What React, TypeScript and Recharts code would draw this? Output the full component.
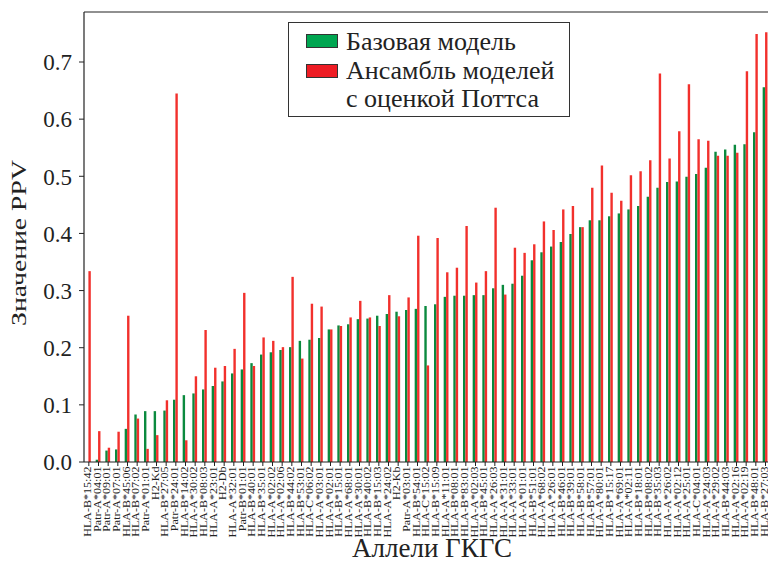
import React from 'react';
import { BarChart, Bar, XAxis, YAxis, ReferenceLine, Legend, Label } from 'recharts';

const alleles = [
  'HLA-B*15:42', 'Patr-A*04:01', 'Patr-A*09:01', 'Patr-A*07:01', 'HLA-B*45:06', 'HLA-B*07:02',
  'Patr-A*01:01', 'H2-Kd', 'HLA-B*27:05', 'Patr-B*24:01', 'HLA-B*14:02', 'HLA-A*30:02',
  'HLA-B*08:03', 'HLA-A*23:01', 'H2-Db', 'HLA-A*32:01', 'Patr-B*01:01', 'HLA-B*40:01',
  'HLA-B*35:01', 'HLA-A*02:02', 'HLA-A*02:06', 'HLA-B*44:02', 'HLA-B*53:01', 'HLA-C*06:02',
  'HLA-A*03:01', 'HLA-A*02:01', 'HLA-B*15:01', 'HLA-A*68:01', 'HLA-A*30:01', 'HLA-B*40:02',
  'HLA-B*15:03', 'HLA-A*24:02', 'H2-Kb', 'Patr-A*03:01', 'HLA-B*54:01', 'HLA-C*15:02',
  'HLA-B*15:09', 'HLA-A*11:01', 'HLA-B*08:01', 'HLA-B*83:01', 'HLA-A*02:03', 'HLA-B*45:01',
  'HLA-A*26:03', 'HLA-A*31:01', 'HLA-A*33:01', 'HLA-A*01:01', 'HLA-B*51:01', 'HLA-A*68:02',
  'HLA-A*26:01', 'HLA-B*46:01', 'HLA-B*39:01', 'HLA-B*58:01', 'HLA-B*57:01', 'HLA-A*80:01',
  'HLA-B*15:17', 'HLA-A*69:01', 'HLA-A*02:11', 'HLA-B*18:01', 'HLA-B*08:02', 'HLA-B*35:03',
  'HLA-A*26:02', 'HLA-A*02:12', 'HLA-A*25:01', 'HLA-C*04:01', 'HLA-A*24:03', 'HLA-A*29:02',
  'HLA-B*44:03', 'HLA-A*02:16', 'HLA-A*02:19', 'HLA-B*48:01', 'HLA-B*27:03', 'HLA-B*38:01',
];

const baseModel = [
  0.0, 0.004, 0.020, 0.022, 0.058, 0.083, 0.089, 0.089, 0.090, 0.109, 0.117, 0.120,
  0.127, 0.133, 0.141, 0.155, 0.162, 0.173, 0.188, 0.192, 0.196, 0.201, 0.212, 0.214,
  0.217, 0.232, 0.239, 0.241, 0.250, 0.251, 0.256, 0.259, 0.263, 0.266, 0.268, 0.273,
  0.276, 0.289, 0.291, 0.291, 0.292, 0.292, 0.304, 0.310, 0.312, 0.326, 0.353, 0.367,
  0.377, 0.385, 0.399, 0.411, 0.423, 0.423, 0.430, 0.435, 0.442, 0.448, 0.464, 0.480,
  0.490, 0.491, 0.499, 0.504, 0.515, 0.543, 0.547, 0.555, 0.556, 0.577, 0.656, 0.684,
];

const ensembleModel = [
  0.334, 0.054, 0.025, 0.053, 0.256, 0.076, 0.023, 0.047, 0.108, 0.645, 0.038, 0.150,
  0.231, 0.165, 0.168, 0.198, 0.296, 0.168, 0.218, 0.212, 0.201, 0.324, 0.181, 0.277,
  0.272, 0.232, 0.238, 0.253, 0.282, 0.253, 0.238, 0.292, 0.255, 0.288, 0.396, 0.169,
  0.392, 0.332, 0.340, 0.413, 0.314, 0.334, 0.445, 0.293, 0.375, 0.366, 0.381, 0.421,
  0.406, 0.442, 0.448, 0.411, 0.480, 0.519, 0.471, 0.457, 0.502, 0.509, 0.528, 0.680,
  0.531, 0.579, 0.661, 0.565, 0.562, 0.536, 0.536, 0.541, 0.684, 0.749, 0.752, 0.760,
];

const seriesNames = ['Базовая модель', 'Ансамбль моделей с оценкой Поттса'];
const legendLines = [['Базовая модель'], ['Ансамбль моделей', 'с оценкой Поттса']];
const yTicks = [0, 0.1, 0.2, 0.3, 0.4, 0.5, 0.6, 0.7];
const Y_MAX = 0.7875;

const GREEN = '#0b8a3e';
const RED = '#f2302c';
const LEGEND_COLORS = ['#00a651', '#ee1c24'];
const FONT = '"Liberation Serif", "Times New Roman", serif';

const data = alleles.map((a, i) => ({ allele: a, base: baseModel[i], ens: ensembleModel[i] }));

const XTick = (props: any) => {
  const { x, y, payload } = props;
  return (
    <text
      transform={`translate(${x + 2.3},${y + 0.5}) rotate(-90) scale(1.27,1)`}
      textAnchor="end"
      fontSize={9.5}
      fontFamily={FONT}
      fill="#222"
    >
      {payload.value}
    </text>
  );
};

const YTick = (props: any) => {
  const { x, y, payload } = props;
  return (
    <text x={x} y={y} dy="0.36em" textAnchor="end" fontSize={23} fontFamily={FONT} fill="#222">
      {payload.value.toFixed(1)}
    </text>
  );
};

const LegendBox = () => {
  const swatchTops = [11, 41];
  const lineTops = [[4], [33, 60.7]];
  return (
    <div
      style={{
        position: 'relative', width: 282, height: 95, border: '1.5px solid #333',
        background: '#fff', boxSizing: 'border-box', fontFamily: FONT, fontSize: 26,
        color: '#222', lineHeight: '29px',
      }}
    >
      {legendLines.map((lines, i) => (
        <React.Fragment key={i}>
          <div
            style={{
              position: 'absolute', left: 17, top: swatchTops[i], width: 30, height: 12,
              background: LEGEND_COLORS[i], border: '1px solid #333',
            }}
          />
          {lines.map((t, j) => (
            <div key={j} style={{ position: 'absolute', left: 57, top: lineTops[i][j], whiteSpace: 'nowrap' }}>
              {t}
            </div>
          ))}
        </React.Fragment>
      ))}
    </div>
  );
};

export default function App() {
  return (
    <div style={{ width: 768, height: 554, overflow: 'hidden', background: '#fff' }}>
      <BarChart
        width={772}
        height={554}
        data={data}
        margin={{ top: 4, right: 0, bottom: 0, left: 0 }}
        barGap={0}
        barSize={2.4}
      >
        <XAxis
          dataKey="allele"
          interval={0}
          tickSize={4}
          tickMargin={0}
          height={100}
          tick={<XTick />}
          axisLine={{ stroke: '#222', strokeWidth: 1.2 }}
          tickLine={{ stroke: '#222' }}
        >
          <Label
            content={(p: any) => {
              const vb = p.viewBox;
              return (
                <text x={vb.x + vb.width / 2} y={549} textAnchor="middle" fontSize={27} fontFamily={FONT} fill="#222">
                  Аллели ГКГС
                </text>
              );
            }}
          />
        </XAxis>
        <YAxis
          type="number"
          domain={[0, Y_MAX]}
          ticks={yTicks}
          width={76}
          tickSize={5}
          tickMargin={7}
          tick={<YTick />}
          axisLine={{ stroke: '#222', strokeWidth: 1.2 }}
          tickLine={{ stroke: '#222' }}
          allowDataOverflow
        >
          <Label
            content={(p: any) => {
              const vb = p.viewBox;
              const cy = vb.y + vb.height / 2 + 6;
              return (
                <text transform={`translate(18,${cy}) rotate(-90) scale(1.32,1)`} textAnchor="middle" fontSize={21} fontFamily={FONT} fill="#222">
                  Значение PPV
                </text>
              );
            }}
          />
        </YAxis>
        <ReferenceLine y={Y_MAX} stroke="#222" strokeWidth={1.2} />
        <Legend
          layout="vertical"
          align="center"
          verticalAlign="middle"
          content={<LegendBox />}
          wrapperStyle={{ position: 'absolute', left: 280, top: 14, width: 282, height: 95 }}
        />
        <Bar dataKey="base" name={seriesNames[0]} fill={GREEN} isAnimationActive={false} />
        <Bar dataKey="ens" name={seriesNames[1]} fill={RED} isAnimationActive={false} />
      </BarChart>
    </div>
  );
}
